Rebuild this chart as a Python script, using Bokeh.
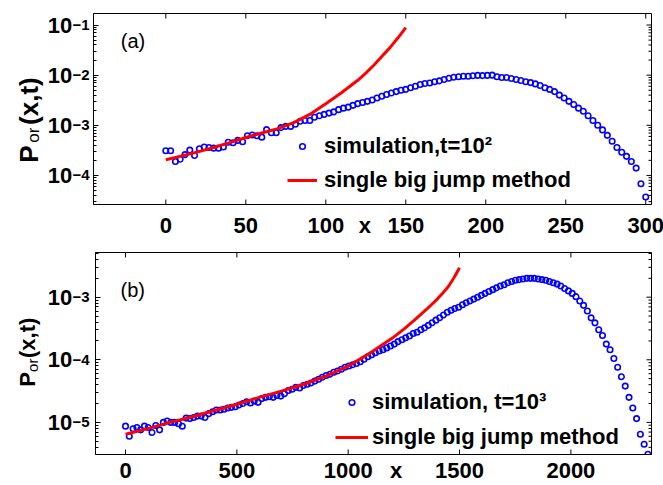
import numpy as np
from bokeh.plotting import figure
from bokeh.models import (Range1d, FixedTicker, Label, Legend, LegendItem,
                          CustomJSTickFormatter, LinearScale)
from bokeh.layouts import column, row
from bokeh.core.properties import value
from bokeh.embed import file_html
from bokeh.resources import INLINE

# ---------------- data, panel (a): t = 10^2 ----------------
a_sim_x = list(range(0, 301, 3))
a_sim_P = [3.1e-4, 3.1e-4, 1.9e-4, 2.1e-4, 2.6e-4, 3.2e-4, 2.5e-4, 3.4e-4, 3.7e-4, 3.6e-4,
           3.5e-4, 3.5e-4, 3.7e-4, 4.6e-4, 4.5e-4, 5.0e-4, 4.7e-4, 6.2e-4, 6.4e-4, 6.2e-4,
           5.8e-4, 8.2e-4, 7.1e-4, 7.1e-4, 9.0e-4, 9.5e-4, 9.5e-4, 1.05e-3, 1.2e-3, 1.25e-3,
           1.25e-3, 1.45e-3, 1.55e-3, 1.65e-3, 1.75e-3, 1.85e-3, 2.05e-3, 2.2e-3, 2.3e-3, 2.5e-3,
           2.7e-3, 2.85e-3, 3.0e-3, 3.2e-3, 3.5e-3, 3.8e-3, 4.1e-3, 4.4e-3, 4.7e-3, 5.0e-3,
           5.2e-3, 5.6e-3, 6.0e-3, 6.5e-3, 6.8e-3, 7.0e-3, 7.4e-3, 7.7e-3, 8.2e-3, 8.7e-3,
           9.1e-3, 9.3e-3, 9.5e-3, 9.5e-3, 9.7e-3, 9.9e-3, 9.8e-3, 9.9e-3, 1.0e-2, 9.3e-3,
           9.0e-3, 9.0e-3, 8.6e-3, 8.2e-3, 7.8e-3, 7.4e-3, 7.1e-3, 6.7e-3, 6.2e-3, 5.6e-3,
           5.2e-3, 4.7e-3, 4.0e-3, 3.5e-3, 3.0e-3, 2.6e-3, 2.2e-3, 1.9e-3, 1.55e-3, 1.25e-3,
           1.0e-3, 8.1e-4, 6.3e-4, 4.8e-4, 3.6e-4, 2.9e-4, 2.4e-4, 1.9e-4, 1.4e-4, 6.8e-5,
           3.7e-5]
a_sbj_x = [0, 10, 20, 30, 40, 50, 60, 70, 80, 90, 100, 110, 120, 125, 130, 135, 140, 145, 150]
a_sbj_P = [2.05e-4, 2.45e-4, 2.95e-4, 3.6e-4, 4.5e-4, 5.7e-4, 7.0e-4, 8.6e-4, 1.13e-3, 1.65e-3,
           2.7e-3, 4.5e-3, 7.9e-3, 1.1e-2, 1.58e-2, 2.35e-2, 3.5e-2, 5.5e-2, 8.9e-2]
a_xticks = [0, 50, 100, 150, 200, 250, 300]
a_xlabel_at = 124.4
a_ydecades = [-4, -3, -2, -1]
a_legend = ["simulation,t=10\u00b2", "single big jump method"]

# ---------------- data, panel (b): t = 10^3 ----------------
b_sim_x = list(range(0, 2347, 17))
b_sim_P = [8.7e-6, 6.0e-6, 7.9e-6, 8.3e-6, 7.6e-6, 8.7e-6, 8.3e-6, 6.9e-6, 8.9e-6, 7.6e-6,
           1.0e-5, 1.05e-5, 1.0e-5, 1.0e-5, 9.5e-6, 8.7e-6, 1.17e-5, 1.15e-5, 1.2e-5, 1.26e-5,
           1.26e-5, 1.2e-5, 1.38e-5, 1.48e-5, 1.58e-5, 1.58e-5, 1.62e-5, 1.7e-5, 1.74e-5, 1.78e-5,
           1.9e-5, 2.0e-5, 2.14e-5, 2.04e-5, 2.19e-5, 2.09e-5, 2.4e-5, 2.51e-5, 2.57e-5, 2.51e-5,
           2.69e-5, 2.63e-5, 2.88e-5, 3.24e-5, 3.39e-5, 3.63e-5, 3.55e-5, 3.89e-5, 4.07e-5, 4.27e-5,
           4.57e-5, 4.9e-5, 5.25e-5, 5.62e-5, 5.89e-5, 6.31e-5, 6.61e-5, 7.08e-5, 7.59e-5, 7.94e-5,
           8.32e-5, 8.71e-5, 9.33e-5, 1.02e-4, 1.12e-4, 1.2e-4, 1.29e-4, 1.38e-4, 1.45e-4, 1.55e-4,
           1.66e-4, 1.78e-4, 1.95e-4, 2.09e-4, 2.24e-4, 2.4e-4, 2.63e-4, 2.75e-4, 3.02e-4, 3.24e-4,
           3.55e-4, 3.9e-4, 4.3e-4, 4.7e-4, 5.2e-4, 5.75e-4, 6.17e-4, 6.61e-4, 6.92e-4, 7.59e-4,
           8.13e-4, 8.71e-4, 9.33e-4, 1.0e-3, 1.07e-3, 1.15e-3, 1.23e-3, 1.32e-3, 1.41e-3, 1.51e-3,
           1.58e-3, 1.7e-3, 1.78e-3, 1.86e-3, 1.91e-3, 1.95e-3, 2.0e-3, 2.0e-3, 2.0e-3, 1.95e-3,
           1.91e-3, 1.86e-3, 1.78e-3, 1.7e-3, 1.62e-3, 1.51e-3, 1.38e-3, 1.26e-3, 1.15e-3, 1.02e-3,
           8.71e-4, 7.41e-4, 6.03e-4, 4.68e-4, 3.89e-4, 3.02e-4, 2.45e-4, 1.78e-4, 1.45e-4, 1.05e-4,
           7.59e-5, 5.37e-5, 3.8e-5, 2.51e-5, 1.7e-5, 1.15e-5, 6.46e-6, 4.47e-6, 3.09e-6]
b_sbj_x = [0, 100, 200, 300, 400, 500, 600, 700, 800, 900, 1000, 1100, 1200, 1250, 1300,
           1350, 1400, 1425, 1450, 1475, 1500]
b_sbj_P = [6.46e-6, 7.94e-6, 1.0e-5, 1.23e-5, 1.55e-5, 1.95e-5, 2.51e-5, 3.16e-5, 4.07e-5,
           5.5e-5, 7.94e-5, 1.29e-4, 2.24e-4, 3.09e-4, 4.37e-4, 6.31e-4, 9.33e-4, 1.17e-3,
           1.48e-3, 2.04e-3, 2.95e-3]
b_xticks = [0, 500, 1000, 1500, 2000]
b_xlabel_at = 1215.0
b_ydecades = [-5, -4, -3]
b_legend = ["simulation, t=10\u00b3", "single big jump method"]

FONT = "Liberation Sans"
BLUE = "#0000FF"
RED = "#FF0000"


def panel(xr, yr, height, side_w, top, bottom, page_y0, sim_x, sim_P, sbj_x, sbj_P,
          xticks, xlabel_at, ydecades, legend_texts, leg_loc, leg_spacing, leg_gw,
          leg_standoff, xlab_std, tag, tag_off, ylab, ten_right):
    p = figure(width=663 - side_w, height=height, x_range=Range1d(*xr),
               y_range=Range1d(*yr), y_axis_type="log", output_backend="svg",
               toolbar_location=None, min_border_left=2, min_border_right=12,
               min_border_top=top, min_border_bottom=bottom,
               background_fill_color="white", border_fill_color="white",
               outline_line_color="black")
    p.xgrid.visible = False
    p.ygrid.visible = False

    major_y = [10.0 ** e for e in ydecades]
    minor_y = [m * 10.0 ** e for e in range(ydecades[0] - 1, ydecades[-1] + 1)
               for m in range(2, 10) if yr[0] <= m * 10.0 ** e <= yr[1]]

    # bottom axis: tick labels (plus the axis name "x" sitting in the label row)
    xa = p.xaxis[0]
    xa.ticker = FixedTicker(ticks=xticks + [xlabel_at], minor_ticks=[])
    xa.formatter = CustomJSTickFormatter(
        args=dict(xl=xlabel_at),
        code="return Math.abs(tick - xl) < 1e-6 ? 'x' : String(tick)")
    xa.axis_line_color = "black"
    xa.major_tick_line_color = None
    xa.minor_tick_line_color = None
    xa.major_tick_in = 0
    xa.major_tick_out = 0
    xa.minor_tick_in = 0
    xa.minor_tick_out = 0
    xa.major_label_text_font = FONT
    xa.major_label_text_font_style = "bold"
    xa.major_label_text_font_size = "22px"
    xa.major_label_text_color = "black"
    xa.major_label_standoff = xlab_std

    # left axis: inward ticks; its labels are drawn in the side strip
    ya = p.yaxis[0]
    ya.ticker = FixedTicker(ticks=major_y, minor_ticks=minor_y)
    ya.axis_line_color = "black"
    ya.major_tick_line_color = "black"
    ya.minor_tick_line_color = "black"
    ya.major_tick_in = 5
    ya.major_tick_out = 0
    ya.minor_tick_in = 3
    ya.minor_tick_out = 0
    ya.major_label_text_color = None
    ya.major_label_text_font_size = "1px"
    ya.major_label_standoff = 0

    # inward ticks on bottom, top and right edges of the box
    p.ray(x=xticks, y=[yr[0]] * len(xticks), length=5, angle=np.pi / 2,
          length_units="screen", line_color="black", line_width=1)
    p.ray(x=xticks, y=[yr[1]] * len(xticks), length=5, angle=-np.pi / 2,
          length_units="screen", line_color="black", line_width=1)
    p.ray(x=[xr[1]] * len(major_y), y=major_y, length=5, angle=np.pi,
          length_units="screen", line_color="black", line_width=1)
    p.ray(x=[xr[1]] * len(minor_y), y=minor_y, length=3, angle=np.pi,
          length_units="screen", line_color="black", line_width=1)

    r_sim = p.scatter(sim_x, sim_P, marker="circle", size=5.5, fill_color=None,
                      line_color=BLUE, line_width=1.6)
    r_sbj = p.line(sbj_x, sbj_P, line_color=RED, line_width=3)

    leg = Legend(items=[LegendItem(label=legend_texts[0], renderers=[r_sim]),
                        LegendItem(label=legend_texts[1], renderers=[r_sbj])],
                 location=leg_loc, orientation="vertical", padding=0, margin=0,
                 spacing=leg_spacing, glyph_width=leg_gw, glyph_height=14,
                 label_height=22, label_standoff=leg_standoff,
                 border_line_color=None, background_fill_alpha=0,
                 label_text_font=FONT, label_text_font_style="bold",
                 label_text_font_size="22px", label_text_color="black")
    p.add_layout(leg)

    p.add_layout(Label(x=xr[0], y=yr[1], x_offset=tag_off[0], y_offset=tag_off[1],
                       text=tag, text_align="left", text_baseline="alphabetic",
                       text_font=FONT, text_font_size="20px", text_color="black"))

    # side strip holding the y tick labels (10 with superscript exponent) and y label
    s = figure(width=side_w, height=height, x_range=Range1d(0, side_w),
               y_range=p.y_range, y_axis_type="log", x_axis_location=None,
               y_axis_location=None, output_backend="svg", toolbar_location=None,
               min_border_left=0, min_border_right=0, min_border_top=top,
               min_border_bottom=bottom, outline_line_color=None,
               background_fill_color="white", border_fill_color="white")
    s.xgrid.visible = False
    s.ygrid.visible = False
    frame_h = height - top - bottom
    s.extra_y_ranges = {"px": Range1d(start=frame_h, end=0)}
    s.extra_y_scales = {"px": LinearScale()}

    s.text(x=[ten_right] * len(major_y), y=major_y, text=["10"] * len(major_y),
           text_align="right", text_baseline="middle", text_font=value(FONT),
           text_font_style="bold", text_font_size="22px", text_color="black")
    s.text(x=[ten_right + 0.3] * len(major_y), y=major_y,
           text=["\u2212%d" % (-e) for e in ydecades], text_align="left",
           text_baseline="alphabetic", text_font=value(FONT),
           text_font_style="bold", text_font_size="15px", text_color="black")
    for txt, xb, ys, size, style in ylab:
        s.text(x=[xb], y=[ys - page_y0 - top], text=[txt], angle=np.pi / 2,
               y_range_name="px", text_align="left", text_baseline="alphabetic",
               text_font=value(FONT), text_font_style=style, text_font_size=size,
               text_color="black")
    return row(s, p)


row1 = panel(xr=(-45.2, 303.6), yr=(10 ** -4.58, 10 ** -0.77), height=240,
             side_w=91, top=13, bottom=35, page_y0=0,
             sim_x=a_sim_x, sim_P=a_sim_P, sbj_x=a_sbj_x, sbj_P=a_sbj_P,
             xticks=a_xticks, xlabel_at=a_xlabel_at, ydecades=a_ydecades,
             legend_texts=a_legend, leg_loc=(194, 11), leg_spacing=8, leg_gw=30,
             leg_standoff=7, xlab_std=8, tag="(a)", tag_off=(27.3, -27.5),
             ylab=[("P", 28, 163, "26px", "bold"),
                   ("or", 33, 143, "17px", "normal"),
                   ("(x,t)", 28, 125, "26px", "bold")],
             ten_right=71.7)

row2 = panel(xr=(-134.8, 2362.0), yr=(10 ** -5.513, 10 ** -2.286), height=245,
             side_w=93, top=12, bottom=30, page_y0=240,
             sim_x=b_sim_x, sim_P=b_sim_P, sbj_x=b_sbj_x, sbj_P=b_sbj_P,
             xticks=b_xticks, xlabel_at=b_xlabel_at, ydecades=b_ydecades,
             legend_texts=b_legend, leg_loc=(240, 4), leg_spacing=9, leg_gw=33,
             leg_standoff=4, xlab_std=3, tag="(b)", tag_off=(25, -37.5),
             ylab=[("P", 27, 387, "22px", "bold"),
                   ("or", 32, 372, "15px", "normal"),
                   ("(x,t)", 27, 358, "22px", "bold")],
             ten_right=71.7)

layout = column(row1, row2)
open("out.html", "w").write(file_html(layout, INLINE))
